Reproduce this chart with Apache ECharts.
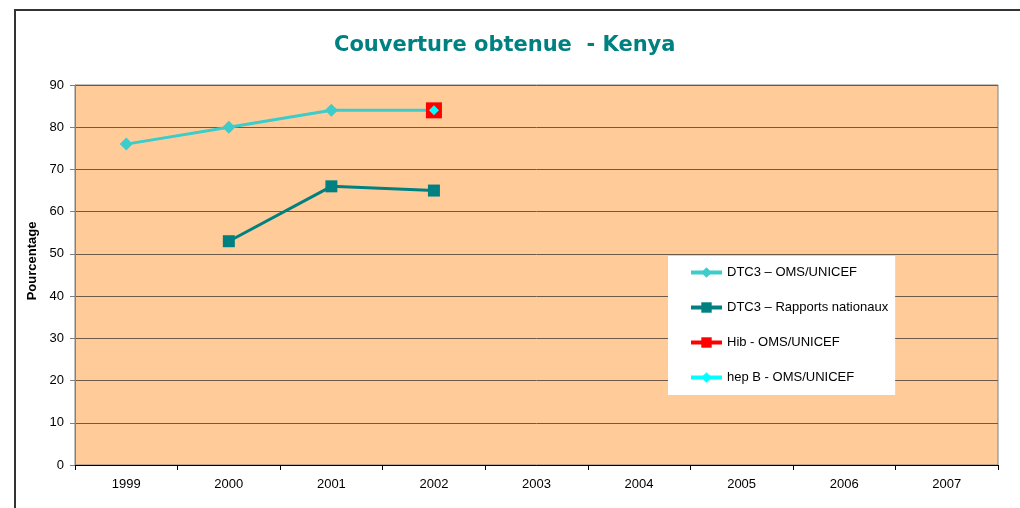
<!DOCTYPE html>
<html lang="fr">
<head>
    <meta charset="UTF-8">
    <title>Couverture obtenue - Kenya</title>
    <script src="https://cdn.jsdelivr.net/npm/echarts@6/dist/echarts.min.js"></script>
    <style>
        html, body { margin: 0; padding: 0; background: #fff; }
        #box { width: 1020px; height: 508px; }
    </style>
</head>
<body>
<div id="box"></div>
<script>
    // données
    var years = ['1999', '2000', '2001', '2002', '2003', '2004', '2005', '2006', '2007'];
    var dtc3Oms = [76, 80, 84, 84, null, null, null, null, null];
    var dtc3Nat = [null, 53, 66, 65, null, null, null, null, null];
    var hibOms = [null, null, null, 84, null, null, null, null, null];
    var hepbOms = [null, null, null, 84, null, null, null, null, null];
    var yTicks = {min: 0, max: 90, step: 10};

    var myChart = echarts.init(document.getElementById('box'));
    var font = 'Liberation Sans, Arial, sans-serif';

    var option = {
        animation: false,
        title: {
            text: 'Couverture obtenue  - Kenya',
            left: 329,
            top: 30,
            textStyle: {
                fontFamily: 'DejaVu Sans, Verdana, sans-serif',
                fontSize: 21,
                fontWeight: 'bold',
                color: '#008080'
            }
        },
        graphic: [{
            type: 'rect',
            shape: {x: 15, y: 10, width: 1100, height: 600},
            style: {fill: null, stroke: '#333', lineWidth: 2},
            silent: true
        }],
        grid: {
            left: 75,
            right: 22,
            top: 85,
            bottom: 43,
            show: true,
            backgroundColor: '#FFCC99',
            borderColor: '#808080',
            borderWidth: 1
        },
        legend: {
            orient: 'vertical',
            left: 668,
            top: 256,
            padding: [10, 7, 11, 21],
            backgroundColor: '#fff',
            itemWidth: 31,
            itemHeight: 13,
            itemGap: 22,
            lineStyle: {width: 4},
            textStyle: {fontFamily: font, fontSize: 13, color: '#000'},
            data: ['DTC3 – OMS/UNICEF', 'DTC3 – Rapports nationaux', 'Hib - OMS/UNICEF', 'hep B - OMS/UNICEF']
        },
        xAxis: {
            type: 'category',
            data: years,
            boundaryGap: true,
            axisLine: {lineStyle: {color: '#000', width: 1}},
            axisTick: {show: true, length: 5, lineStyle: {color: '#000'}},
            axisLabel: {fontFamily: font, fontSize: 13, color: '#000', margin: 13}
        },
        yAxis: {
            type: 'value',
            min: yTicks.min,
            max: yTicks.max,
            interval: yTicks.step,
            name: 'Pourcentage',
            nameLocation: 'middle',
            nameGap: 34,
            nameTextStyle: {fontFamily: font, fontSize: 13, fontWeight: 'bold', color: '#000', padding: [0, 0, 0, 28]},
            axisLine: {show: true, lineStyle: {color: '#808080'}},
            axisTick: {show: true, length: 5, lineStyle: {color: '#808080'}},
            axisLabel: {fontFamily: font, fontSize: 13, color: '#000', margin: 11},
            splitLine: {lineStyle: {color: '#6e5a48', width: 1}}
        },
        series: [
            {
                name: 'DTC3 – OMS/UNICEF',
                type: 'line',
                data: dtc3Oms,
                symbol: 'diamond',
                symbolSize: 13,
                lineStyle: {color: '#3CCCCC', width: 3},
                itemStyle: {color: '#3CCCCC'},
                z: 2
            },
            {
                name: 'DTC3 – Rapports nationaux',
                type: 'line',
                data: dtc3Nat,
                symbol: 'rect',
                symbolSize: 12,
                lineStyle: {color: '#008080', width: 3},
                itemStyle: {color: '#008080'}
            },
            {
                name: 'Hib - OMS/UNICEF',
                type: 'line',
                data: hibOms,
                symbol: 'rect',
                symbolSize: 16,
                lineStyle: {color: '#FF0000', width: 3},
                itemStyle: {color: '#FF0000'},
                z: 3
            },
            {
                name: 'hep B - OMS/UNICEF',
                type: 'line',
                data: hepbOms,
                symbol: 'diamond',
                symbolSize: 10,
                lineStyle: {color: '#00FFFF', width: 3},
                itemStyle: {color: '#00FFFF'},
                z: 4
            }
        ]
    };

    myChart.setOption(option);
</script>
</body>
</html>
